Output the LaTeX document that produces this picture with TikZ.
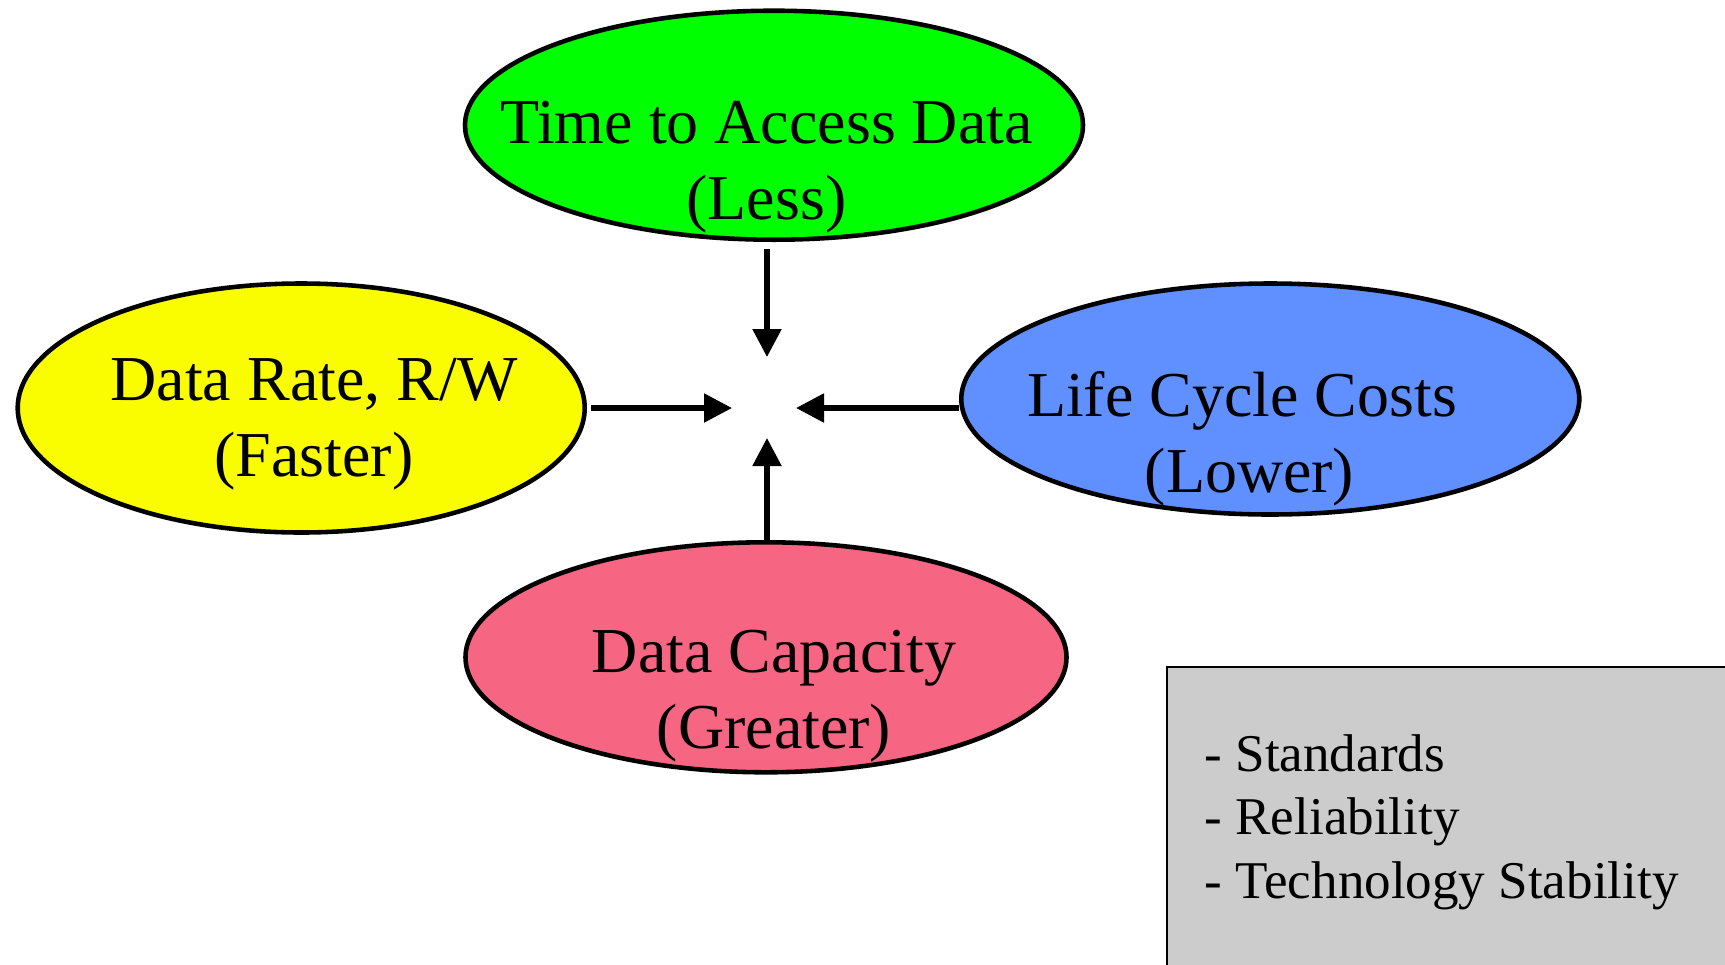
\documentclass[tikz,border=0pt]{standalone}
\usepackage{fontspec}
\setmainfont{Liberation Serif}
\usetikzlibrary{shapes.geometric, arrows.meta, positioning}

\definecolor{accessgreen}{RGB}{0,255,0}
\definecolor{rateyellow}{RGB}{250,252,0}
\definecolor{costblue}{RGB}{96,143,255}
\definecolor{capacitypink}{RGB}{246,101,130}
\definecolor{notegray}{RGB}{204,204,204}

\begin{document}
\begin{tikzpicture}[->, > = {Triangle[length=5.6mm, width=5.6mm]}, line width=3pt,
	goal/.style = {ellipse, draw, line width=2.6pt, inner sep=0pt},
	goaltext/.style = {anchor=base, align=center, inner sep=0pt, font=\fontsize{36.4}{42.7}\selectfont},
	notebox/.style = {rectangle, draw, line width=1.2pt, fill=notegray, anchor=north west},
	notetext/.style = {anchor=base west, align=left, inner sep=0pt, font=\fontsize{30.2}{36.1}\selectfont}]

\useasboundingbox (0,0) rectangle (34.5,-19.28);

\coordinate (hub) at (15.34,-8.16);

% the four goals around the hub
\node[goal, fill=accessgreen, minimum width=12.36cm, minimum height=4.58cm]		(time) [above=3.32cm of hub, xshift=0.14cm]	{};
\node[goal, fill=rateyellow, minimum width=11.34cm, minimum height=4.98cm]		(rate) [left=3.60cm of hub]			{};
\node[goal, fill=costblue, minimum width=12.36cm, minimum height=4.62cm]		(cost) [right=3.84cm of hub, yshift=0.18cm]	{};
\node[goal, fill=capacitypink, minimum width=12.02cm, minimum height=4.60cm]	(capacity) [below=2.64cm of hub, xshift=-0.02cm]	{};

% labels sit on the baseline of their last line
\node[goaltext]	(timetext)		at (15.33,-4.38)	{Time to Access Data\\(Less)};
\node[goaltext]	(ratetext)		at (6.28,-9.52)		{Data Rate, R/W\\(Faster)};
\node[goaltext]	(costtext)		at (24.84,-9.84)	{Life Cycle Costs\hspace{0.3cm}\\\hspace{0.3cm}(Lower)};
\node[goaltext]	(capacitytext)	at (15.48,-14.96)	{Data Capacity\\(Greater)};

% other criteria
\node[notebox, minimum width=12cm, minimum height=7cm]	(box)	at (23.32,-13.32)	{};
\node[notetext]	(notes)	at (24.04,-17.96)	{- Standards\\- Reliability\\- Technology Stability};

\path	(hub |- time.south)		edge[shorten <=0.14cm, shorten >=1.02cm]	(hub);
\path	(rate.east)				edge[shorten <=0.08cm, shorten >=0.70cm]	(hub);
\path	(hub -| cost.west)		edge[shorten >=0.58cm]						(hub);
\path	(hub |- capacity.north)	edge[shorten >=0.60cm]						(hub);

\end{tikzpicture}
\end{document}
